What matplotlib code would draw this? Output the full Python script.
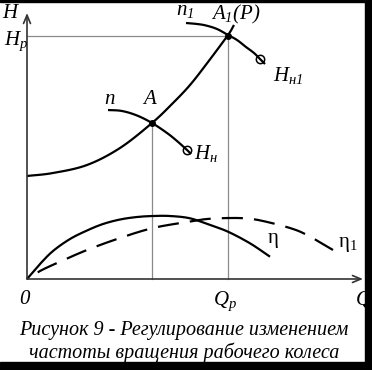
import matplotlib
matplotlib.use("Agg")
import numpy as np
import matplotlib.pyplot as plt
from matplotlib.patches import Rectangle

plt.rcParams['font.family'] = ['Liberation Serif', 'DejaVu Serif']
plt.rcParams['mathtext.fontset'] = 'custom'
plt.rcParams['mathtext.it'] = 'Liberation Serif:italic'
plt.rcParams['mathtext.rm'] = 'Liberation Serif:italic'
plt.rcParams['mathtext.sf'] = 'Liberation Serif'
plt.rcParams['mathtext.bf'] = 'Liberation Serif:bold'

# ---- data (arbitrary units) ----
Q_sys = [0, 2.6, 6.0, 9.3, 12.5, 14.5, 16.3, 18.1, 20.1, 20.7]
H_sys = [10.3, 10.6, 11.4, 13.1, 15.6, 17.5, 19.4, 21.7, 24.4, 25.4]

Q_n = [8.1, 9.5, 11.0, 12.5, 14.0, 15.0, 16.0, 16.4]
H_n = [16.9, 16.8, 16.35, 15.6, 14.6, 13.8, 12.9, 12.5]

Q_n1 = [15.9, 17.0, 17.9, 19.0, 20.1, 21.0, 21.9, 22.7, 23.3, 23.8]
H_n1 = [25.6, 25.5, 25.35, 25.0, 24.4, 23.9, 23.2, 22.6, 22.0, 21.5]

Q_eta = [0, 1.3, 2.6, 4.3, 6.0, 7.6, 9.3, 11.0, 12.6, 14.3, 16.3, 18.3, 20.1, 22.3, 24.3]
E_eta = [0, 1.5, 2.8, 4.0, 4.85, 5.5, 5.95, 6.2, 6.3, 6.3, 6.07, 5.4, 4.73, 3.57, 2.23]

Q_eta1 = [0, 1.3, 3.0, 6.0, 9.3, 12.6, 16.0, 18.0, 20.3, 22.0, 23.6, 26.3, 28.0, 30.6]
E_eta1 = [0, 0.8, 1.6, 2.9, 4.1, 5.1, 5.7, 6.0, 6.1, 6.05, 5.8, 5.1, 4.4, 2.9]

A = (12.5, 15.6)
A1 = (20.1, 24.35)
n_end_circle = (16.0, 12.9)
n1_end_circle = (23.3, 22.0)

caption = "Рисунок 9 - Регулирование изменением\nчастоты вращения рабочего колеса"


def smooth(xs, ys, k=12):
    """Catmull-Rom curve through the given points (for drawing only)."""
    p = np.column_stack([xs, ys]).astype(float)
    p = np.vstack([2 * p[0] - p[1], p, 2 * p[-1] - p[-2]])
    out = []
    t = np.linspace(0, 1, k, endpoint=False)[:, None]
    for i in range(1, len(p) - 2):
        p0, p1, p2, p3 = p[i - 1], p[i], p[i + 1], p[i + 2]
        seg = 0.5 * ((2 * p1) + (-p0 + p2) * t + (2 * p0 - 5 * p1 + 4 * p2 - p3) * t ** 2
                     + (-p0 + 3 * p1 - 3 * p2 + p3) * t ** 3)
        out.append(seg)
    out.append(p[-2][None, :])
    out = np.vstack(out)
    return out[:, 0], out[:, 1]


# ---- figure ----
W, H = 372, 370
fig = plt.figure(figsize=(W / 100, H / 100), dpi=100)
fig.patch.set_facecolor('white')

x0, y0 = 27, 279   # origin px
x1, y1 = 363, 13   # arrow tips px
ax = fig.add_axes([x0 / W, 1 - y0 / H, (x1 - x0) / W, (y0 - y1) / H])
ax.set_xlim(0, (x1 - x0) / 10)
ax.set_ylim(0, (y0 - y1) / 10)
ax.axis('off')

axis_col = '#333333'
for tip in [(1, 0), (0, 1)]:
    ax.annotate('', xy=tip, xytext=(0, 0), xycoords='axes fraction',
                arrowprops=dict(arrowstyle='->,head_length=0.6,head_width=0.25', color=axis_col,
                                lw=1.2, shrinkA=0, shrinkB=0))

guide = '#8a8a8a'
ax.plot([0, A1[0]], [A1[1], A1[1]], color=guide, lw=0.9, clip_on=False)
ax.plot([A1[0], A1[0]], [0, A1[1]], color=guide, lw=0.9, clip_on=False)
ax.plot([A[0], A[0]], [0, A[1]], color=guide, lw=0.9, clip_on=False)

lw = 1.6
for xs, ys in [(Q_sys, H_sys), (Q_n, H_n), (Q_n1, H_n1), (Q_eta, E_eta)]:
    sx, sy = smooth(xs, ys)
    ax.plot(sx, sy, color='black', lw=lw, clip_on=False, solid_capstyle='butt')

# dashed curve: choose the dash phase so that the curve ends with a full dash
sx, sy = smooth(Q_eta1, E_eta1)
disp = ax.transData.transform(np.column_stack([sx, sy]))
L_pt = np.hypot(*np.diff(disp, axis=0).T).sum() * 72 / fig.dpi
on, off = 9.5, 5.0
phase = (on - L_pt / lw) % (on + off)
ax.plot(sx, sy, color='black', lw=lw, ls=(phase, (on, off)), clip_on=False)

for p in (A, A1):
    ax.plot(*p, 'o', color='black', ms=4, clip_on=False)
for p in (n_end_circle, n1_end_circle):
    ax.plot(*p, 'o', mfc='none', mec='black', mew=1.1, ms=6, clip_on=False)

fs = 15
ax.text(-1.6, 26.6, '$H$', fontsize=fs, ha='center', va='center')
ax.text(-1.1, 23.8, '$H_p$', fontsize=fs, ha='center', va='center')
ax.text(8.3, 18.0, '$n$', fontsize=fs, ha='center', va='center')
ax.text(12.3, 17.9, '$A$', fontsize=fs, ha='center', va='center')
ax.text(15.8, 26.8, r'$n_1$', fontsize=fs, ha='center', va='center')
ax.text(20.9, 26.5, r'$A_1(P)$', fontsize=fs, ha='center', va='center')
ax.text(26.1, 20.4, r'$H_{н1}$', fontsize=fs, ha='center', va='center')
ax.text(17.9, 12.6, '$H_{н}$', fontsize=fs, ha='center', va='center')
ax.text(24.6, 3.9, r'$\mathsf{η}$', fontsize=fs, ha='center', va='center')
ax.text(32.1, 3.4, r'$\mathsf{η}_\mathsf{1}$', fontsize=fs, ha='center', va='center')
ax.text(-0.3, -2.1, '0', fontsize=fs, style='italic', ha='center', va='center')
ax.text(19.8, -2.2, '$Q_p$', fontsize=fs, ha='center', va='center')
ax.text(33.6, -2.1, '$Q$', fontsize=fs, ha='center', va='center')

fig.text(184 / W, 1 - 342 / H, caption, fontsize=14.5, style='italic', ha='center', va='center',
         linespacing=1.1)

# frame shadow
fig.patches.append(Rectangle((0, 1 - 2 / H), 1, 2 / H, transform=fig.transFigure, color='black', zorder=10))
fig.patches.append(Rectangle((365 / W, 0), 1, 1, transform=fig.transFigure, color='black', zorder=10))
fig.patches.append(Rectangle((0, 0), 1, 1 - 362 / H, transform=fig.transFigure, color='black', zorder=10))

fig.savefig('out.png', dpi=100)
